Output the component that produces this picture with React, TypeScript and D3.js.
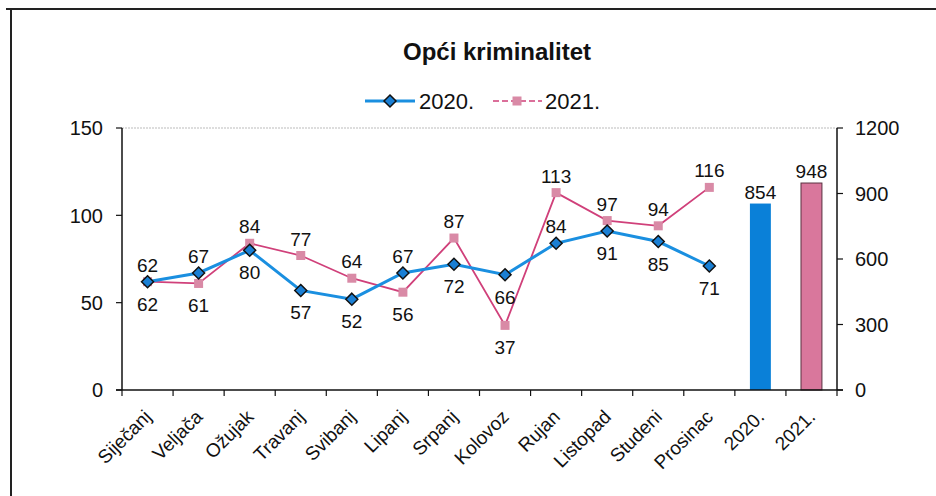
import React from "react";
import * as d3 from "d3";

const categories = [
  "Siječanj", "Veljača", "Ožujak", "Travanj", "Svibanj", "Lipanj", "Srpanj",
  "Kolovoz", "Rujan", "Listopad", "Studeni", "Prosinac", "2020.", "2021.",
];
const months = categories.slice(0, 12);
const values2020 = [62, 67, 80, 57, 52, 67, 72, 66, 84, 91, 85, 71];
const values2021 = [62, 61, 84, 77, 64, 56, 87, 37, 113, 97, 94, 116];
const totalCats = ["2020.", "2021."];
const totals = [854, 948];
const labelSide2020 = ["a", "a", "b", "b", "b", "a", "b", "b", "a", "b", "b", "b"];
const labelSide2021 = ["b", "b", "a", "a", "a", "b", "a", "b", "a", "a", "a", "a"];
const leftTicks = [0, 50, 100, 150];
const rightTicks = [0, 300, 600, 900, 1200];
const seriesNames = ["2020.", "2021."];

const W = 936;
const H = 496;
const FONT = "'Liberation Sans', Arial, sans-serif";
const BLUE_LINE = "#1a8fe0";
const BLUE_FILL = "#1a7fd4";
const BLUE_BAR = "#0a80d8";
const PINK_LINE = "#d0407a";
const PINK_FILL = "#d98aa6";
const PINK_BAR = "#d9779c";

export default function App() {
  const left = 122, right = 837, top = 128, bottom = 390;
  const x = d3.scaleBand<string>().domain(categories).range([left, right]).padding(0);
  const yL = d3.scaleLinear().domain([0, 150]).range([bottom, top]);
  const yR = d3.scaleLinear().domain([0, 1200]).range([bottom, top]);
  const cx = (c: string) => (x(c) as number) + x.bandwidth() / 2;
  const line = d3.line<number>().x((_, i) => cx(months[i])).y((d) => yL(d));
  const barW = x.bandwidth() * 0.41;
  const boundaries = d3.range(categories.length + 1).map((i) => left + i * x.bandwidth());

  const diamond = (px: number, py: number, r: number) =>
    `M${px},${py - r}L${px + r},${py}L${px},${py + r}L${px - r},${py}Z`;

  return (
    <svg width={W} height={H} style={{ position: "absolute", left: 0, top: 0, background: "#fff" }} fontFamily={FONT}>
      <rect x={0} y={0} width={W} height={H} fill="#fff" />
      {/* frame */}
      <line x1={6} y1={9} x2={W} y2={9} stroke="#222" strokeWidth={2} />
      <line x1={11} y1={9} x2={11} y2={H} stroke="#222" strokeWidth={2} />

      {/* title */}
      <text x={497} y={60} textAnchor="middle" fontSize={24} fontWeight="bold" fill="#111">Opći kriminalitet</text>

      {/* legend */}
      <g>
        <line x1={365} x2={415} y1={101} y2={101} stroke={BLUE_LINE} strokeWidth={3} />
        <path d={diamond(390, 101, 6)} fill={BLUE_FILL} stroke="#111" strokeWidth={1.5} />
        <text x={419} y={109} fontSize={22} fill="#111">{seriesNames[0]}</text>
        <line x1={493} x2={542} y1={101} y2={101} stroke={PINK_LINE} strokeWidth={1.5} strokeDasharray="6,3" />
        <rect x={512.5} y={96.5} width={9} height={9} fill={PINK_FILL} />
        <text x={545} y={109} fontSize={22} fill="#111">{seriesNames[1]}</text>
      </g>

      {/* plot area top border */}
      <line x1={left} x2={right} y1={top} y2={top} stroke="#bbb" strokeWidth={1} strokeDasharray="2,1" />

      {/* bars */}
      {totalCats.map((c, i) => (
        <g key={c}>
          <rect
            x={cx(c) - barW / 2}
            y={yR(totals[i])}
            width={barW}
            height={bottom - yR(totals[i])}
            fill={i === 0 ? BLUE_BAR : PINK_BAR}
            stroke={i === 0 ? "none" : "#5a3040"}
            strokeWidth={1}
          />
          <text x={cx(c)} y={yR(totals[i]) - 5} textAnchor="middle" fontSize={19} fill="#111">{totals[i]}</text>
        </g>
      ))}

      {/* axes */}
      <line x1={left} x2={left} y1={top} y2={bottom} stroke="#111" strokeWidth={1.5} />
      <line x1={right} x2={right} y1={top} y2={bottom} stroke="#111" strokeWidth={1.5} />
      <line x1={left - 6} x2={right + 6} y1={bottom} y2={bottom} stroke="#111" strokeWidth={1.5} />
      {boundaries.map((bx, i) => (
        <line key={i} x1={bx} x2={bx} y1={bottom} y2={bottom + 6} stroke="#111" strokeWidth={1.2} />
      ))}
      {leftTicks.map((t) => (
        <g key={"l" + t}>
          <line x1={left - 6} x2={left} y1={yL(t)} y2={yL(t)} stroke="#111" strokeWidth={1.2} />
          <text x={103} y={yL(t)} dy="0.36em" textAnchor="end" fontSize={20} fill="#111">{t}</text>
        </g>
      ))}
      {rightTicks.map((t) => (
        <g key={"r" + t}>
          <line x1={right} x2={right + 6} y1={yR(t)} y2={yR(t)} stroke="#111" strokeWidth={1.2} />
          <text x={855} y={yR(t)} dy="0.36em" textAnchor="start" fontSize={20} fill="#111">{t}</text>
        </g>
      ))}

      {/* category labels */}
      {categories.map((c) => (
        <text
          key={c}
          transform={`translate(${cx(c) + 5},${bottom + 28}) rotate(-45)`}
          textAnchor="end"
          fontSize={19}
          fill="#111"
        >
          {c}
        </text>
      ))}

      {/* lines */}
      <path d={line(values2021) || ""} fill="none" stroke={PINK_LINE} strokeWidth={1.8} />
      <path d={line(values2020) || ""} fill="none" stroke={BLUE_LINE} strokeWidth={3} />
      {values2021.map((v, i) => (
        <rect key={"s" + i} x={cx(months[i]) - 4.5} y={yL(v) - 4.5} width={9} height={9} fill={PINK_FILL} />
      ))}
      {values2020.map((v, i) => (
        <path key={"d" + i} d={diamond(cx(months[i]), yL(v), 6)} fill={BLUE_FILL} stroke="#111" strokeWidth={1.5} />
      ))}

      {/* data labels */}
      {values2020.map((v, i) => (
        <text
          key={"l20" + i}
          x={cx(months[i])}
          y={labelSide2020[i] === "a" ? yL(v) - 10 : yL(v) + 29}
          textAnchor="middle"
          fontSize={19}
          fill="#111"
        >
          {v}
        </text>
      ))}
      {values2021.map((v, i) => (
        <text
          key={"l21" + i}
          x={cx(months[i])}
          y={labelSide2021[i] === "a" ? yL(v) - 10 : yL(v) + 29}
          textAnchor="middle"
          fontSize={19}
          fill="#111"
        >
          {v}
        </text>
      ))}
    </svg>
  );
}
